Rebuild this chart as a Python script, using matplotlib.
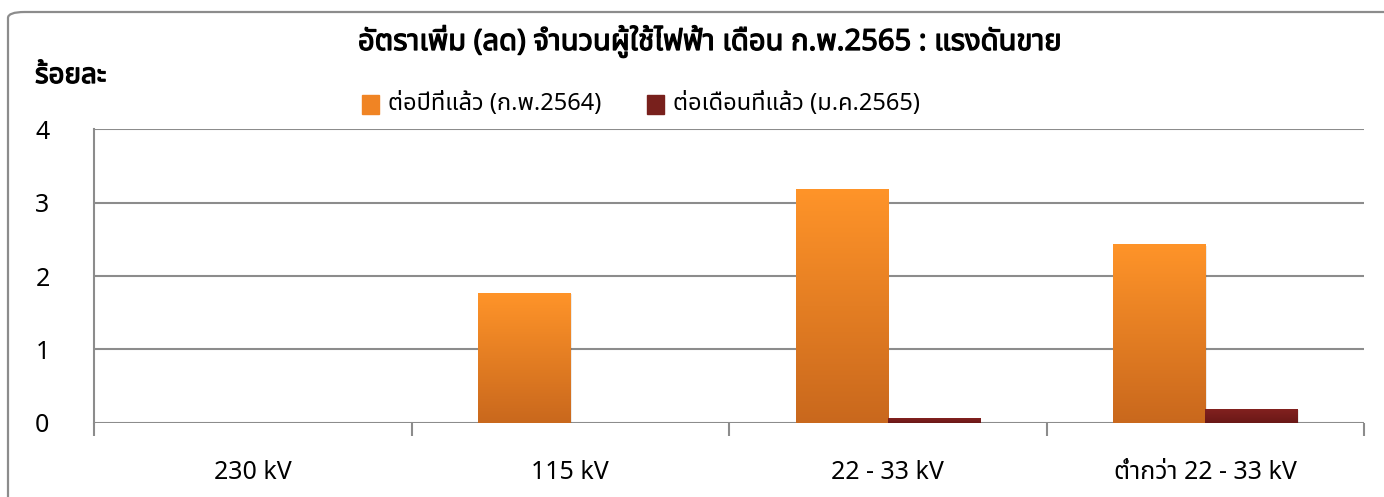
import matplotlib
matplotlib.use("Agg")
import matplotlib.pyplot as plt
import matplotlib.patheffects as pe
import numpy as np
from matplotlib import font_manager
from matplotlib.ft2font import FT2Font
from matplotlib.colors import LinearSegmentedColormap
from matplotlib.patches import FancyBboxPatch, Rectangle

categories = ["230 kV", "115 kV", "22 - 33 kV", "ต่ำกว่า 22 - 33 kV"]
yoy_values = [0.0, 1.77, 3.19, 2.43]
mom_values = [0.0, 0.0, 0.06, 0.19]
series_names = ["ต่อปีที่แล้ว (ก.พ.2564)", "ต่อเดือนที่แล้ว (ม.ค.2565)"]
title = "อัตราเพิ่ม (ลด) จำนวนผู้ใช้ไฟฟ้า เดือน ก.พ.2565 : แรงดันขาย"
unit_label = "ร้อยละ"
yticks = [0, 1, 2, 3, 4]


def thai_fonts():
    # look for any installed family that has Thai glyphs
    preferred = ["Noto Sans Thai", "Noto Sans Thai UI", "Noto Sans Thai Looped",
                 "Sarabun", "Loma", "Garuda", "Waree", "Umpush", "Kinnari", "Norasi"]
    found = set()
    for f in font_manager.fontManager.ttflist:
        try:
            if 0x0E2D in FT2Font(f.fname).get_charmap():
                found.add(f.name)
        except Exception:
            pass
    return [n for n in preferred if n in found] + sorted(found - set(preferred))


fams = thai_fonts()
plt.rcParams['font.family'] = fams + ['DejaVu Sans']

W, H = 1384, 497
fig = plt.figure(figsize=(W / 100, H / 100), dpi=100)

# outer chart border (rounded, runs off the right and bottom edges)
border = FancyBboxPatch((8 / W, -0.1), 1.2, 1 - 12 / H + 0.1,
                        boxstyle="round,pad=0,rounding_size=0.012",
                        transform=fig.transFigure, fill=False,
                        edgecolor="#8c8c8c", linewidth=1.6)
fig.patches.append(border)

ax = fig.add_axes([94 / W, 1 - 422.7 / H, 1270 / W, 293.4 / H])

x = np.arange(len(categories))
w = 0.29
grey = "#8c8c8c"

bars1 = ax.bar(x - w / 2, yoy_values, w, color="#f08424", zorder=3)
bars2 = ax.bar(x + w / 2, mom_values, w, color="#78201c", zorder=3)


def gradient(bars, bottom_col, top_col):
    cmap = LinearSegmentedColormap.from_list("g", [bottom_col, top_col])
    grad = np.linspace(0, 1, 256).reshape(-1, 1)
    for b in bars:
        if b.get_height() <= 0:
            continue
        x0, y0 = b.get_x(), b.get_y()
        # soft shadow
        ax.add_patch(Rectangle((x0 + 0.004, y0 - 0.02), b.get_width(), b.get_height(),
                               color="#000000", alpha=0.08, zorder=2.5, lw=0))
        im = ax.imshow(grad, extent=[x0, x0 + b.get_width(), y0, y0 + b.get_height()],
                       origin="lower", aspect="auto", cmap=cmap, zorder=3.5)
        im.set_clip_path(b)


gradient(bars1, "#c9681d", "#ff9429")
gradient(bars2, "#6a1817", "#82211f")

ax.set_xlim(-0.5, len(categories) - 0.5)
ax.set_ylim(0, 4)
ax.set_yticks(yticks)
ax.yaxis.grid(True, color=grey, linewidth=1.5, zorder=0)
ax.set_axisbelow(True)
for s in ["top", "right", "bottom"]:
    ax.spines[s].set_visible(False)
ax.spines["left"].set_color(grey)
ax.spines["left"].set_linewidth(1.5)
ax.tick_params(axis="y", length=0, pad=32, labelsize=18)

# group boundaries as major ticks, labels on the minor ticks
ax.set_xticks(np.arange(len(categories) + 1) - 0.5)
ax.set_xticklabels([])
ax.set_xticks(x, minor=True)
ax.set_xticklabels(categories, minor=True)
ax.tick_params(axis="x", which="major", length=9, width=1.5, color=grey)
ax.tick_params(axis="x", which="minor", length=0, pad=27, labelsize=18)

# no bold Thai face installed, so thicken with a stroke
bold = [pe.withStroke(linewidth=0.9, foreground="black")]
fig.text(710 / W, 1 - 42 / H, title, ha="center", va="center",
         fontsize=21, path_effects=bold)
fig.text(35 / W, 1 - 76 / H, unit_label, ha="left", va="center",
         fontsize=20, path_effects=bold)

# legend
leg_cols = ["#f08424", "#78201c"]
leg_x = [362, 647]
for lx, c, name in zip(leg_x, leg_cols, series_names):
    fig.patches.append(Rectangle((lx / W, 1 - 114 / H), 17 / W, 19 / H,
                                 transform=fig.transFigure, color=c))
    fig.text((lx + 26) / W, 1 - 104 / H, name, ha="left", va="center", fontsize=17)

fig.savefig("out.png", dpi=100)
